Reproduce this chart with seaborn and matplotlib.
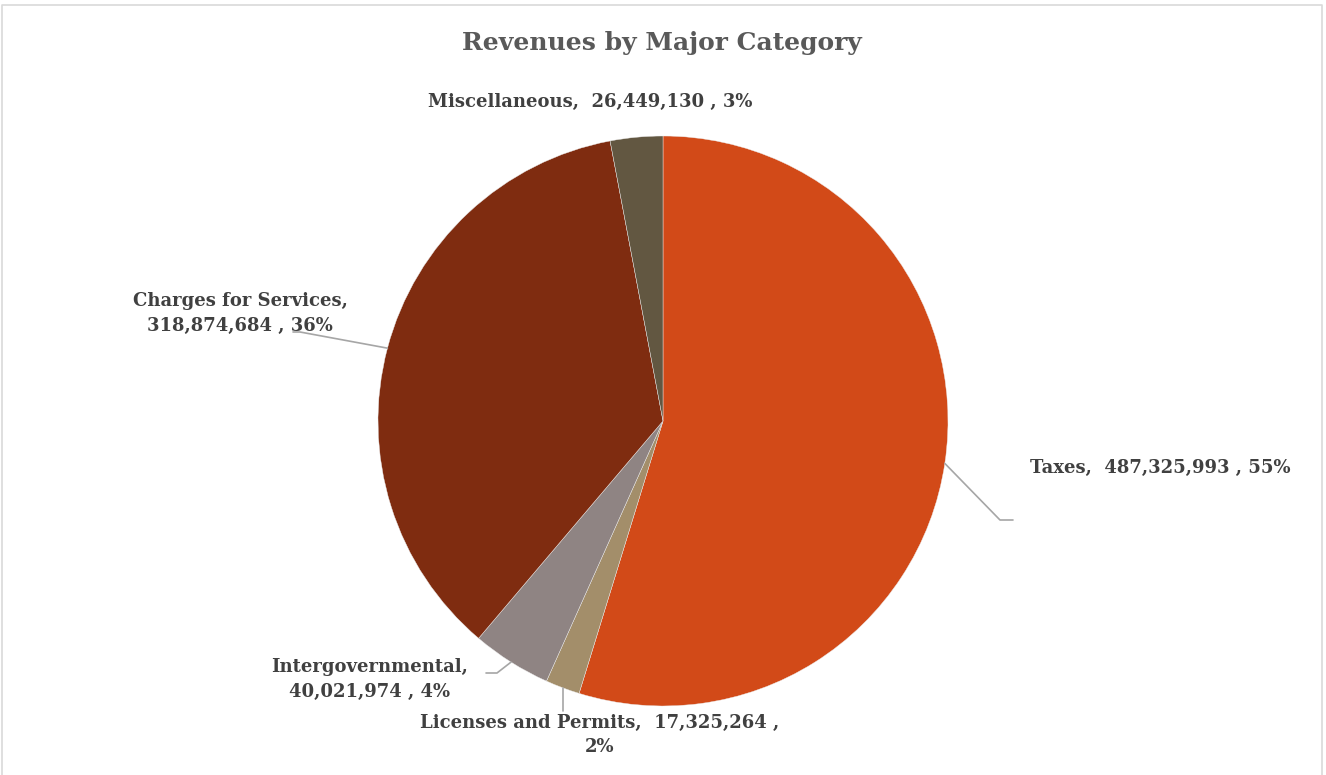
import numpy as np
import matplotlib
matplotlib.use("Agg")
import matplotlib.pyplot as plt
import seaborn as sns

categories = ["Taxes", "Licenses and Permits", "Intergovernmental",
              "Charges for Services", "Miscellaneous"]
values = [487325993, 17325264, 40021974, 318874684, 26449130]
colors = ["#D24A18", "#A38E6A", "#8F8483", "#7F2C10", "#625741"]
title = "Revenues by Major Category"

sns.set_theme(style="white")
plt.rcParams['font.family'] = ['DejaVu Serif']

W, H = 1326, 775
fig = plt.figure(figsize=(W / 100, H / 100), dpi=100)
ax = fig.add_axes([0, 0, 1, 1])

cx, cy, R = 663, H - 421, 285
wedges, _ = ax.pie(values, colors=colors, startangle=90, counterclock=False,
                   center=(cx, cy), radius=R, frame=True,
                   wedgeprops=dict(edgecolor="#EDEDED", linewidth=0.3))
ax.set_xlim(0, W)
ax.set_ylim(0, H)
ax.set_aspect('equal')
ax.axis('off')

total = sum(values)
pcts = [round(v / total * 100) for v in values]
label_txt = [f"{c},  {v:,} , {p}%" for c, v, p in zip(categories, values, pcts)]

tcol = "#404040"
lcol = "#A6A6A6"
fs = 13
ls = 1.5

def edge_pt(w):
    ang = np.deg2rad((w.theta1 + w.theta2) / 2)
    return cx + R * np.cos(ang), cy + R * np.sin(ang)

# Taxes
x0, y0 = edge_pt(wedges[0])
ax.plot([x0, 1000, 1013], [y0, H - 520, H - 520], color=lcol, lw=1.2)
ax.text(1030, H - 468, label_txt[0], fontsize=fs, fontweight='bold', color=tcol,
        ha='left', va='center')

# Licenses and Permits
x0, y0 = edge_pt(wedges[1])
ax.plot([x0, x0], [y0, H - 711], color=lcol, lw=1.2)
ax.text(600, H - 735, f"{categories[1]},  {values[1]:,} ,\n{pcts[1]}%", fontsize=fs,
        fontweight='bold', color=tcol, ha='center', va='center', linespacing=ls)

# Intergovernmental
x0, y0 = edge_pt(wedges[2])
ax.plot([x0, 497, 486], [y0, H - 673, H - 673], color=lcol, lw=1.2)
ax.text(370, H - 679, f"{categories[2]},\n{values[2]:,} , {pcts[2]}%", fontsize=fs,
        fontweight='bold', color=tcol, ha='center', va='center', linespacing=ls)

# Charges for Services
x0, y0 = edge_pt(wedges[3])
ax.plot([x0, 300, 293], [y0, H - 332, H - 332], color=lcol, lw=1.2)
ax.text(240, H - 313, f"{categories[3]},\n{values[3]:,} , {pcts[3]}%", fontsize=fs,
        fontweight='bold', color=tcol, ha='center', va='center', linespacing=ls)

# Miscellaneous
ax.text(590, H - 102, label_txt[4], fontsize=fs, fontweight='bold', color=tcol,
        ha='center', va='center')

ax.text(662, H - 43, title, fontsize=18, fontweight='bold', color="#595959",
        ha='center', va='center')

# border
ax.plot([2, 2, 1322, 1322], [0, H - 5, H - 5, 0], color="#D9D9D9", lw=1.2)

fig.savefig("out.png", dpi=100)
